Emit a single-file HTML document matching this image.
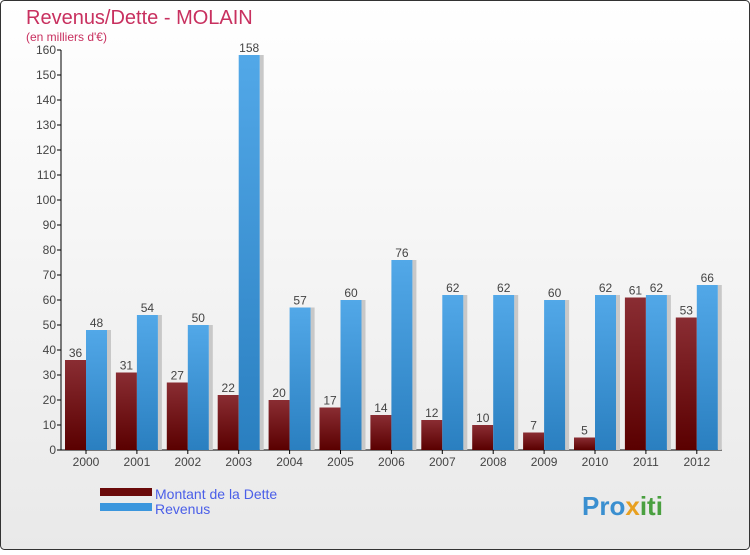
<!DOCTYPE html>
<html><head><meta charset="utf-8"><style>
body{margin:0;width:750px;height:550px;overflow:hidden;font-family:"Liberation Sans",sans-serif}
</style></head><body>
<svg width="750" height="550" xmlns="http://www.w3.org/2000/svg">
<defs>
<linearGradient id="bg" x1="0" y1="0" x2="0" y2="1"><stop offset="0" stop-color="#ffffff"/><stop offset="1" stop-color="#e9e9e9"/></linearGradient>
<linearGradient id="gd" x1="0" y1="0" x2="0" y2="1"><stop offset="0" stop-color="#8a2d33"/><stop offset="1" stop-color="#5a0000"/></linearGradient>
<linearGradient id="gr" x1="0" y1="0" x2="0" y2="1"><stop offset="0" stop-color="#52a8e8"/><stop offset="1" stop-color="#2a7fc0"/></linearGradient>
</defs>
<rect x="0.5" y="0.5" width="749" height="549" rx="4" fill="url(#bg)" stroke="#333"/>
<text x="26" y="24" font-size="20" fill="#c8305f">Revenus/Dette - MOLAIN</text>
<text x="26" y="41" font-size="12" fill="#c8305f">(en milliers d'€)</text>
<g id="axes"></g>
<g id="bars"></g>
<g>
<rect x="100" y="488" width="52" height="8" fill="#6a0a0a"/>
<text x="155" y="499" font-size="14" fill="#4a5ee8">Montant de la Dette</text>
<rect x="100" y="503" width="52" height="8" fill="#3b96dd"/>
<text x="155" y="514" font-size="14" fill="#4a5ee8">Revenus</text>
</g>
<text x="582" y="515" font-size="26" font-weight="bold" fill="#3a8fd0">Pro<tspan fill="#e8a020">x</tspan><tspan fill="#4aa040">iti</tspan></text>
</svg>
<script>
const years=["2000","2001","2002","2003","2004","2005","2006","2007","2008","2009","2010","2011","2012"];
const dette=[36,31,27,22,20,17,14,12,10,7,5,61,53];
const revenus=[48,54,50,158,57,60,76,62,62,60,62,62,66];
const yTicks=[0,10,20,30,40,50,60,70,80,90,100,110,120,130,140,150,160];
const NS="http://www.w3.org/2000/svg";
const y0=450,yTop=50,yMax=160,x0=61,x1=722;
const yS=v=>y0-(v/yMax)*(y0-yTop);
const step=50.9,cx=i=>86+i*step;
function mk(t,a,parent,txt){const e=document.createElementNS(NS,t);for(const k in a)e.setAttribute(k,a[k]);if(txt!==undefined)e.textContent=txt;parent.appendChild(e);return e;}
const ax=document.getElementById('axes'),bg=document.getElementById('bars');
let l=mk('line',{x1:x0,y1:yTop,x2:x0,y2:y0,stroke:'#000'},ax);


l=mk('line',{x1:x0,y1:y0,x2:x1,y2:y0,stroke:'#000'},ax);


yTicks.forEach(v=>{const y=yS(v);
 mk('line',{x1:x0-4,y1:y,x2:x0,y2:y,stroke:'#000'},ax);
 const t=mk('text',{x:x0-5,y:y+4,'font-size':12,fill:'#444','text-anchor':'end'},ax,v);
 
 
});
years.forEach((yr,i)=>{const c=cx(i);
 mk('line',{x1:c,y1:y0,x2:c,y2:y0+4,stroke:'#000'},ax);
 const t=mk('text',{x:c,y:y0+16,'font-size':12,fill:'#444','text-anchor':'middle'},ax,yr);
 
 
 const d=dette[i],r=revenus[i];
 mk('rect',{x:c+21,y:yS(r),width:4,height:y0-yS(r),fill:'#c8c8c8'},bg);
 let b=mk('rect',{x:c-21,y:yS(d),width:21,height:y0-yS(d),fill:'url(#gd)'},bg);
 
 
 b=mk('rect',{x:c,y:yS(r),width:21,height:y0-yS(r),fill:'url(#gr)'},bg);
 
 
 let v=mk('text',{x:c-10.5,y:yS(d)-3,'font-size':12,fill:'#444','text-anchor':'middle'},bg,d);
 
 
 v=mk('text',{x:c+10.5,y:yS(r)-3,'font-size':12,fill:'#444','text-anchor':'middle'},bg,r);
 
 
});
</script>
</body></html>
